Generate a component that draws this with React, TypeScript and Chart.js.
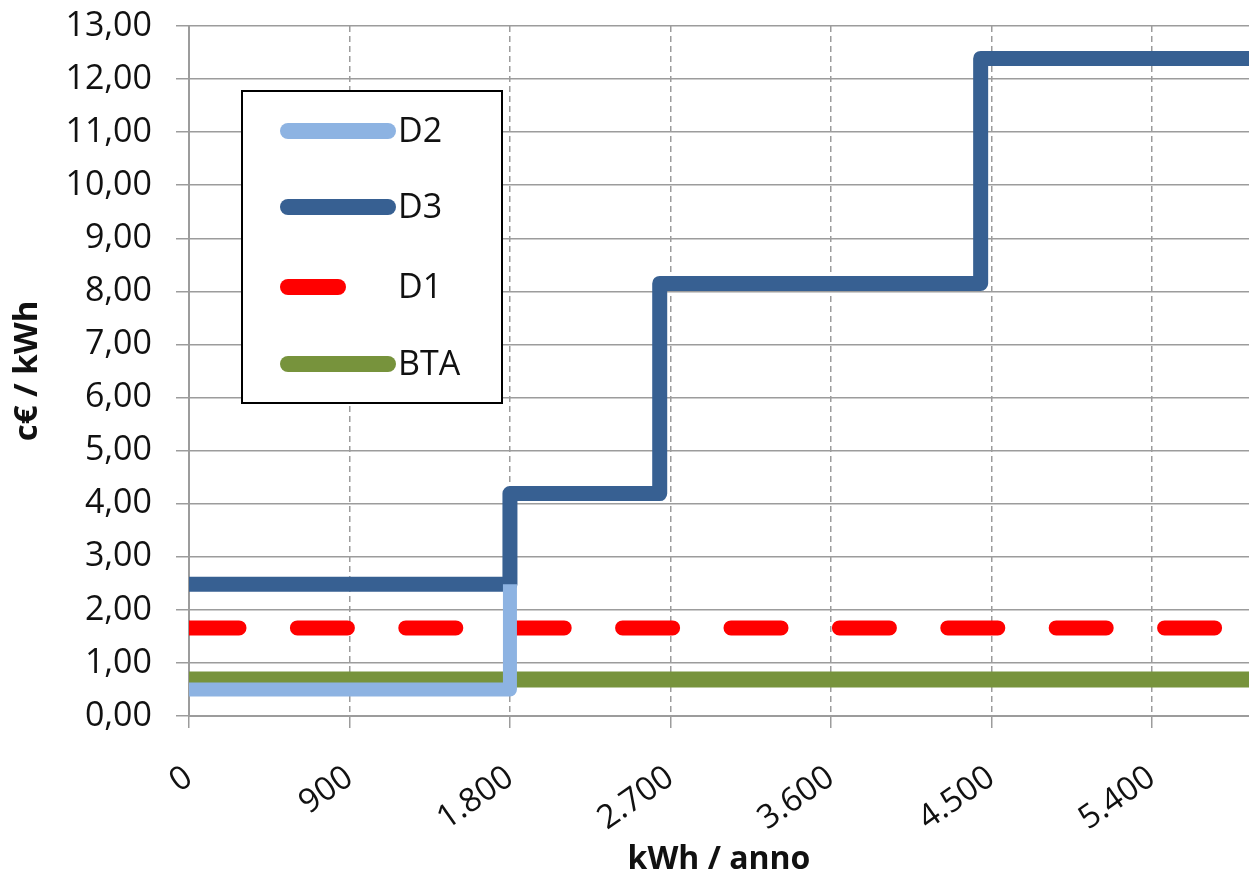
import React, { useEffect, useRef } from 'react';
import { Chart, registerables } from 'chart.js';

Chart.register(...registerables);

// ---- data ----
const xMax = 5945;
const xTickValues = [0, 900, 1800, 2700, 3600, 4500, 5400];
const xTickLabels = ['0', '900', '1.800', '2.700', '3.600', '4.500', '5.400'];
const yTickValues = [0, 1, 2, 3, 4, 5, 6, 7, 8, 9, 10, 11, 12, 13];
const yTickLabels = ['0,00', '1,00', '2,00', '3,00', '4,00', '5,00', '6,00', '7,00', '8,00', '9,00', '10,00', '11,00', '12,00', '13,00'];

const seriesNames = ['D2', 'D3', 'D1', 'BTA'];

const d2Kwh = [0, 1800];
const d2Values = [0.5, 2.48];

const d3Kwh = [0, 1800, 2640, 4440, xMax];
const d3Values = [2.48, 4.19, 8.15, 12.39, 12.39];

const d1Kwh = [0, xMax];
const d1Values = [1.66, 1.66];

const btaKwh = [0, xMax];
const btaValues = [0.69, 0.69];

const FONT = "'Open Sans', 'DejaVu Sans', sans-serif";
const TEXT = '#111111';
const GRID = '#9c9c9c';

const toPoints = (xs: number[], ys: number[]) => xs.map((x, i) => ({ x, y: ys[i] }));

const boxLegend = {
  id: 'boxLegend',
  afterDatasetsDraw(chart: any) {
    const { ctx, chartArea } = chart;
    const left = chartArea.left + 53;
    const top = chartArea.top + 65;
    const w = 260;
    const h = 312;
    ctx.save();
    ctx.fillStyle = '#ffffff';
    ctx.fillRect(left, top, w, h);
    ctx.strokeStyle = '#000000';
    ctx.lineWidth = 2;
    ctx.strokeRect(left, top, w, h);
    const rowY = [40, 116, 196, 273];
    chart.data.datasets.forEach((ds: any, i: number) => {
      const y = top + rowY[i];
      ctx.save();
      ctx.strokeStyle = ds.borderColor;
      ctx.lineWidth = 16;
      ctx.lineCap = 'round';
      ctx.setLineDash(ds.borderDash || []);
      ctx.beginPath();
      ctx.moveTo(left + 46, y);
      ctx.lineTo(left + 146, y);
      ctx.stroke();
      ctx.restore();
      ctx.fillStyle = TEXT;
      ctx.font = `34px ${FONT}`;
      ctx.textBaseline = 'middle';
      ctx.textAlign = 'left';
      ctx.fillText(ds.label, left + 156, y + 1);
    });
    ctx.restore();
  },
};

export default function App() {
  const ref = useRef<HTMLCanvasElement | null>(null);

  useEffect(() => {
    if (!ref.current) return;
    const chart = new Chart(ref.current, {
      type: 'line',
      data: {
        datasets: [
          {
            label: seriesNames[0],
            data: toPoints(d2Kwh, d2Values),
            borderColor: '#8db3e2',
            borderWidth: 14,
            stepped: true,
            borderJoinStyle: 'round',
            pointRadius: 0,
          },
          {
            label: seriesNames[1],
            data: toPoints(d3Kwh, d3Values),
            borderColor: '#376092',
            borderWidth: 15,
            stepped: true,
            borderJoinStyle: 'round',
            pointRadius: 0,
          },
          {
            label: seriesNames[2],
            data: toPoints(d1Kwh, d1Values),
            borderColor: '#ff0000',
            borderWidth: 15,
            borderDash: [50, 58.4],
            borderCapStyle: 'round',
            pointRadius: 0,
          },
          {
            label: seriesNames[3],
            data: toPoints(btaKwh, btaValues),
            borderColor: '#77933c',
            borderWidth: 16,
            pointRadius: 0,
          },
        ],
      } as any,
      options: {
        animation: false,
        responsive: true,
        maintainAspectRatio: false,
        layout: { padding: { top: 26, left: 0, right: 0, bottom: 0 } },
        plugins: {
          legend: { display: false },
          tooltip: { enabled: false },
        },
        scales: {
          x: {
            type: 'linear',
            min: 0,
            max: xMax,
            afterBuildTicks: (scale: any) => {
              scale.ticks = xTickValues.map((v) => ({ value: v }));
            },
            afterFit: (scale: any) => {
              scale.height = 163;
              scale.paddingLeft = 0;
              scale.paddingRight = 0;
            },
            ticks: {
              minRotation: 35,
              maxRotation: 35,
              autoSkip: false,
              padding: 30,
              color: TEXT,
              font: { family: FONT, size: 33 },
              callback: (v: any) => {
                const i = xTickValues.indexOf(Number(v));
                return i >= 0 ? xTickLabels[i] : '';
              },
            },
            grid: { color: GRID, lineWidth: 1.5, tickLength: 12 },
            border: { display: true, color: GRID, width: 2, dash: [6, 4] },
            title: {
              display: true,
              text: 'kWh / anno',
              color: TEXT,
              font: { family: FONT, size: 32, weight: 'bold' },
              padding: { top: 0, bottom: 0 },
            },
          },
          y: {
            type: 'linear',
            min: 0,
            max: 13,
            afterBuildTicks: (scale: any) => {
              scale.ticks = yTickValues.map((v) => ({ value: v }));
            },
            afterFit: (scale: any) => {
              scale.width = 189;
              scale.paddingTop = 0;
              scale.paddingBottom = 0;
            },
            ticks: {
              padding: 24,
              color: TEXT,
              font: { family: FONT, size: 34 },
              callback: (v: any) => {
                const i = yTickValues.indexOf(Number(v));
                return i >= 0 ? yTickLabels[i] : '';
              },
            },
            grid: { color: GRID, lineWidth: 1.5, tickLength: 13 },
            border: { display: true, color: GRID, width: 2 },
            title: {
              display: true,
              text: 'c€ / kWh',
              color: TEXT,
              font: { family: FONT, size: 33, weight: 'bold' },
              padding: { top: 8, bottom: 0 },
            },
          },
        },
      } as any,
      plugins: [boxLegend],
    });
    return () => chart.destroy();
  }, []);

  return (
    <div style={{ position: 'absolute', left: 0, top: 0, width: 1249, height: 879, background: '#fff' }}>
      <canvas ref={ref} />
    </div>
  );
}
